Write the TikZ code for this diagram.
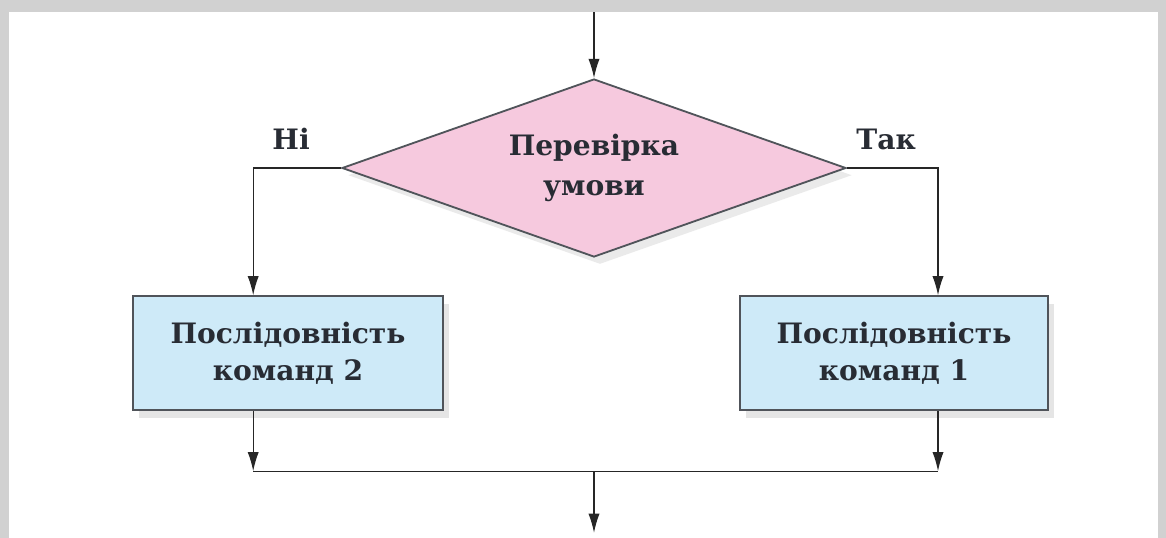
\documentclass[tikz,border=0pt]{standalone}
\usepackage{fontspec}
\setmainfont{DejaVu Serif}
\usepackage{tikz}
\usetikzlibrary{arrows.meta,shapes.geometric,shadows,calc}
\definecolor{condpink}{RGB}{246,201,222}
\definecolor{seqblue}{RGB}{206,234,248}
\definecolor{edgegray}{RGB}{80,84,90}
\definecolor{inkgray}{RGB}{40,44,52}

\begin{document}
\begin{tikzpicture}
\tikzstyle{main}=[thick, draw=edgegray, line width=1.3pt, text=inkgray, font=\fontsize{20}{24}\selectfont\bfseries, align=center, inner sep=0pt]
\tikzstyle{cond}=[main, diamond, fill=condpink, minimum width=12.6cm, minimum height=4.45cm, aspect=2.8, drop shadow={opacity=0.16, shadow xshift=1.5mm, shadow yshift=-1.8mm}]
\tikzstyle{seq}=[main, rectangle, fill=seqblue, minimum height=2.85cm, drop shadow={opacity=0.2, shadow xshift=1.5mm, shadow yshift=-2mm}]
\tikzstyle{lbl}=[text=inkgray, font=\fontsize{20}{24}\selectfont\bfseries, inner sep=0pt]
\tikzstyle{connect}=[-{Latex[length=4.8mm,width=2.8mm]}, line width=0.9pt, draw=black!85]

  % frame
  \fill[black!18] (0,0) rectangle (29.15,-13.45);
  \fill[white] (0.22,-0.3) rectangle (28.95,-13.45);
  \useasboundingbox (0,0) rectangle (29.15,-13.45);

  \node[cond] (test) at (14.85,-4.2)    {Перевірка\\[4pt]умови};
  \node[seq, minimum width=7.75cm] (seq2) at (7.2,-8.83)  {Послідовність\\[2pt]команд 2};
  \node[seq, minimum width=7.7cm]  (seq1) at (22.35,-8.83) {Послідовність\\[2pt]команд 1};

  \node[lbl] (no)  at ([shift={(-1.25,0.72)}]test.west) {Ні};
  \node[lbl] (yes) at ([shift={(0.98,0.72)}]test.east)  {Так};

  \coordinate (start)  at (14.85,-0.3);
  \coordinate (brL)    at (6.33,-4.2);
  \coordinate (brR)    at (23.45,-4.2);
  \coordinate (joinL)  at (6.33,-11.78);
  \coordinate (joinR)  at (23.45,-11.78);
  \coordinate (join)   at (14.85,-11.78);
  \coordinate (finish) at (14.85,-13.32);

  \draw[connect] (start) -- (test.north);
  \draw[connect] (test.west) -| (seq2.north -| brL);
  \draw[connect] (test.east) -| (seq1.north -| brR);
  \draw[connect] (seq2.south -| brL) -- (joinL);
  \draw[connect] (seq1.south -| brR) -- (joinR);
  \draw[line width=0.9pt, black!85] (joinL) -- (joinR);
  \draw[connect] (join) -- (finish);

\end{tikzpicture}
\end{document}
